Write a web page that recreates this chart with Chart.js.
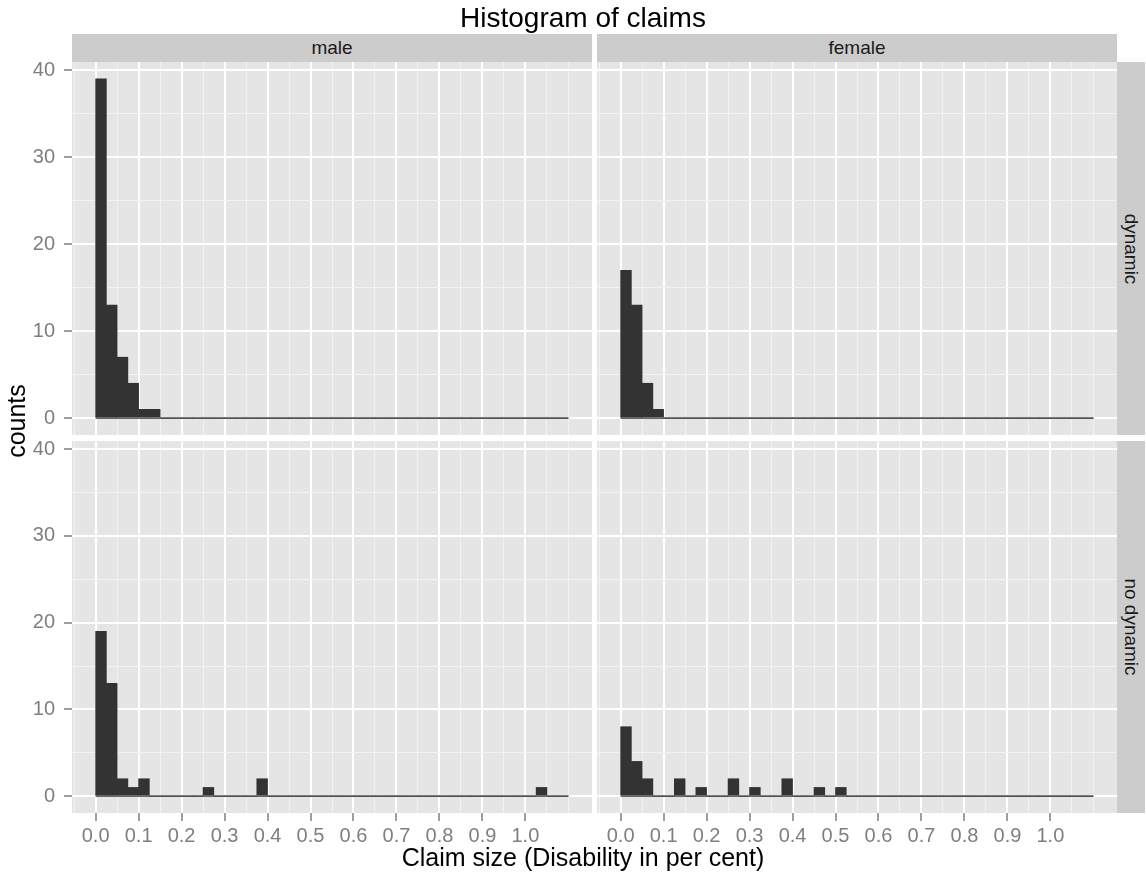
<!DOCTYPE html>
<html>
<head>
<meta charset="utf-8">
<title>Histogram of claims</title>
<script src="https://cdn.jsdelivr.net/npm/chart.js@4.4.1/dist/chart.umd.min.js"></script>
<style>
	body { margin: 0; background: #ffffff; font-family: "Liberation Sans", Arial, sans-serif; }
	#page { position: relative; width: 1146px; height: 877px; overflow: hidden; background: #fff; }
	.box { position: absolute; }
	.strip { position: absolute; background: #cccccc; color: #1a1a1a; font-size: 19px;
		display: flex; align-items: center; justify-content: center; }
	.rot { transform: rotate(90deg); white-space: nowrap; }
	.txt { position: absolute; text-align: center; color: #000; white-space: nowrap; }
</style>
</head>
<body>
<div id="page">
	<div class="box" style="left:0px; top:40px; width:592px; height:395px;"><canvas id="maleDyn"></canvas></div>
	<div class="box" style="left:597px; top:40px; width:520px; height:395px;"><canvas id="femaleDyn"></canvas></div>
	<div class="box" style="left:0px; top:430px; width:592px; height:447px;"><canvas id="maleNoDyn"></canvas></div>
	<div class="box" style="left:597px; top:430px; width:520px; height:447px;"><canvas id="femaleNoDyn"></canvas></div>

	<div class="strip" style="left:72px; top:34px; width:520px; height:28px;">male</div>
	<div class="strip" style="left:597px; top:34px; width:520px; height:28px;">female</div>
	<div class="strip" style="left:1117px; top:62px; width:28px; height:373px;"><span class="rot">dynamic</span></div>
	<div class="strip" style="left:1117px; top:441px; width:28px; height:372px;"><span class="rot">no dynamic</span></div>

	<div class="txt" style="left:383px; top:1px; width:400px; font-size:28px; line-height:34px;">Histogram of claims</div>
	<div class="txt" style="left:333px; top:842px; width:500px; font-size:25px; line-height:30px;">Claim size (Disability in per cent)</div>
	<div class="txt" style="left:-84px; top:406px; width:200px; font-size:25px; line-height:30px; transform:rotate(-90deg);">counts</div>
</div>

<script>
// histogram bins (left edges), width 0.025
var binWidth = 0.025;
var binLefts = [0, 0.025, 0.05, 0.075, 0.1, 0.125, 0.15, 0.175, 0.2, 0.225,
	0.25, 0.275, 0.3, 0.325, 0.35, 0.375, 0.4, 0.425, 0.45, 0.475,
	0.5, 0.525, 0.55, 0.575, 0.6, 0.625, 0.65, 0.675, 0.7, 0.725,
	0.75, 0.775, 0.8, 0.825, 0.85, 0.875, 0.9, 0.925, 0.95, 0.975,
	1.0, 1.025, 1.05, 1.075];
var binRight = 1.1;

// counts per bin, one array per facet
var maleDynamic = [39, 13, 7, 4, 1, 1, 0, 0, 0, 0,
	0, 0, 0, 0, 0, 0, 0, 0, 0, 0,
	0, 0, 0, 0, 0, 0, 0, 0, 0, 0,
	0, 0, 0, 0, 0, 0, 0, 0, 0, 0,
	0, 0, 0, 0];
var femaleDynamic = [17, 13, 4, 1, 0, 0, 0, 0, 0, 0,
	0, 0, 0, 0, 0, 0, 0, 0, 0, 0,
	0, 0, 0, 0, 0, 0, 0, 0, 0, 0,
	0, 0, 0, 0, 0, 0, 0, 0, 0, 0,
	0, 0, 0, 0];
var maleNoDynamic = [19, 13, 2, 1, 2, 0, 0, 0, 0, 0,
	1, 0, 0, 0, 0, 2, 0, 0, 0, 0,
	0, 0, 0, 0, 0, 0, 0, 0, 0, 0,
	0, 0, 0, 0, 0, 0, 0, 0, 0, 0,
	0, 1, 0, 0];
var femaleNoDynamic = [8, 4, 2, 0, 0, 2, 0, 1, 0, 0,
	2, 0, 1, 0, 0, 2, 0, 0, 1, 0,
	1, 0, 0, 0, 0, 0, 0, 0, 0, 0,
	0, 0, 0, 0, 0, 0, 0, 0, 0, 0,
	0, 0, 0, 0];

// axis breaks
var xMajor = [0, 0.1, 0.2, 0.3, 0.4, 0.5, 0.6, 0.7, 0.8, 0.9, 1.0];
var xTickLabels = ['0.0', '0.1', '0.2', '0.3', '0.4', '0.5', '0.6', '0.7', '0.8', '0.9', '1.0'];
var xMinor = [-0.05, 0.05, 0.15, 0.25, 0.35, 0.45, 0.55, 0.65, 0.75, 0.85, 0.95, 1.05, 1.1];
var yMajor = [0, 10, 20, 30, 40];
var yTickLabels = ['0', '10', '20', '30', '40'];
var yMinor = [5, 15, 25, 35];

var FONT = '"Liberation Sans", Arial, sans-serif';

// grey panel background behind the grid
var panelBg = {
	id: 'panelBg',
	beforeDraw: function(chart) {
		var a = chart.chartArea;
		var ctx = chart.ctx;
		ctx.save();
		ctx.fillStyle = '#e5e5e5';
		ctx.fillRect(a.left, a.top, a.right - a.left, a.bottom - a.top);
		ctx.restore();
	}
};

function isMajor(list, ctx) {
	return ctx.tick && list.indexOf(ctx.tick.value) >= 0;
}

function makePanel(id, counts, showX, showY, padTop) {
	var bars = binLefts.map(function(b, i) {
		return { x: b + binWidth / 2, y: counts[i] };
	});
	var baseline = [{ x: binLefts[0], y: 0 }, { x: binRight, y: 0 }];

	new Chart(document.getElementById(id), {
		type: 'bar',
		data: {
			datasets: [
				{ type: 'line', data: baseline, borderColor: '#333333', borderWidth: 1.2, pointRadius: 0, order: 0 },
				{ data: bars, backgroundColor: '#333333', barPercentage: 1, categoryPercentage: 1, order: 1 }
			]
		},
		plugins: [panelBg],
		options: {
			responsive: true,
			maintainAspectRatio: false,
			devicePixelRatio: 1,
			animation: false,
			events: [],
			layout: { padding: { top: padTop, left: 0, right: 0, bottom: 0 } },
			plugins: { legend: { display: false }, tooltip: { enabled: false } },
			scales: {
				x: {
					type: 'linear',
					min: -0.055,
					max: 1.155,
					offset: false,
					border: { display: false },
					afterBuildTicks: function(scale) {
						scale.ticks = xMinor.concat(xMajor).sort(function(a, b) { return a - b; })
							.map(function(v) { return { value: v }; });
					},
					afterFit: function(scale) {
						scale.height = showX ? 64 : 0;
						scale.paddingLeft = 0;
						scale.paddingRight = 0;
					},
					grid: {
						offset: false,
						color: function(ctx) { return isMajor(xMajor, ctx) ? '#ffffff' : '#f2f2f2'; },
						lineWidth: function(ctx) { return isMajor(xMajor, ctx) ? 2 : 1; },
						drawTicks: showX,
						tickLength: 8,
						tickColor: function(ctx) { return isMajor(xMajor, ctx) ? '#7f7f7f' : 'rgba(0,0,0,0)'; },
						tickWidth: 1.5
					},
					ticks: {
						display: showX,
						autoSkip: false,
						maxRotation: 0,
						minRotation: 0,
						padding: 3,
						color: '#7f7f7f',
						font: { size: 20, family: FONT },
						callback: function(v) {
							var i = xMajor.indexOf(v);
							return i >= 0 ? xTickLabels[i] : '';
						}
					}
				},
				y: {
					type: 'linear',
					min: -1.95,
					max: 40.95,
					border: { display: false },
					afterBuildTicks: function(scale) {
						scale.ticks = yMinor.concat(yMajor).sort(function(a, b) { return a - b; })
							.map(function(v) { return { value: v }; });
					},
					afterFit: function(scale) {
						scale.width = showY ? 72 : 0;
						scale.paddingTop = 0;
						scale.paddingBottom = 0;
					},
					grid: {
						color: function(ctx) { return isMajor(yMajor, ctx) ? '#ffffff' : '#f2f2f2'; },
						lineWidth: function(ctx) { return isMajor(yMajor, ctx) ? 2 : 1; },
						drawTicks: showY,
						tickLength: 8,
						tickColor: function(ctx) { return isMajor(yMajor, ctx) ? '#7f7f7f' : 'rgba(0,0,0,0)'; },
						tickWidth: 1.5
					},
					ticks: {
						display: showY,
						autoSkip: false,
						padding: 9,
						color: '#7f7f7f',
						font: { size: 20, family: FONT },
						callback: function(v) {
							var i = yMajor.indexOf(v);
							return i >= 0 ? yTickLabels[i] : '';
						}
					}
				}
			}
		}
	});
}

makePanel('maleDyn', maleDynamic, false, true, 22);
makePanel('femaleDyn', femaleDynamic, false, false, 22);
makePanel('maleNoDyn', maleNoDynamic, true, true, 11);
makePanel('femaleNoDyn', femaleNoDynamic, true, false, 11);
</script>
</body>
</html>
